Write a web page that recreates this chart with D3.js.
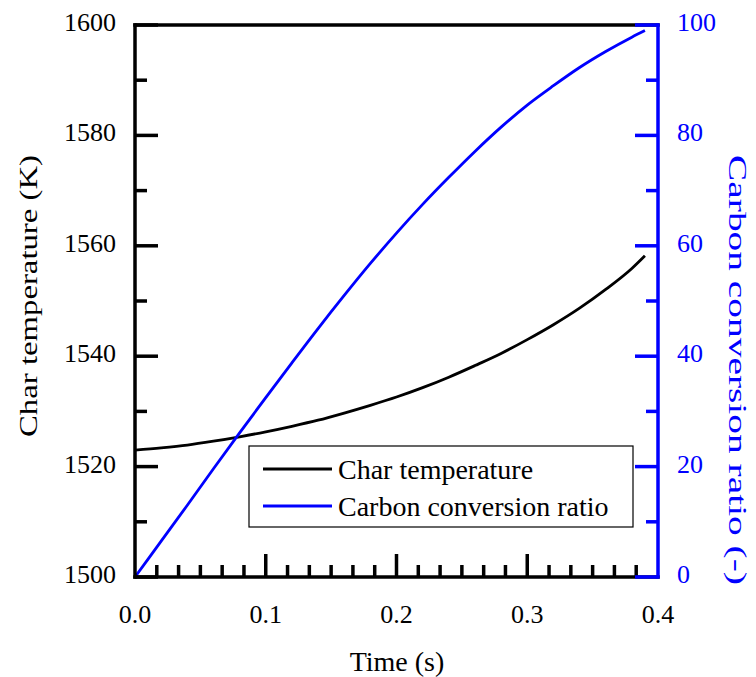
<!DOCTYPE html>
<html>
<head>
<meta charset="utf-8">
<script src="https://cdn.jsdelivr.net/npm/d3@7"></script>
<style>
  html, body { margin: 0; padding: 0; background: #fff; }
  svg { display: block; }
  text { font-family: "Liberation Serif", "Times New Roman", serif; }
</style>
</head>
<body>
<svg id="chart" width="756" height="677"></svg>
<script>
// ---- data ----
const time = [0, 0.02, 0.04, 0.06, 0.08, 0.10, 0.12, 0.14, 0.16, 0.18, 0.20, 0.22, 0.24, 0.26, 0.28, 0.30, 0.32, 0.34, 0.36, 0.38, 0.39];
const charTemperature = [1523.0, 1523.4, 1523.9, 1524.6, 1525.4, 1526.3, 1527.3, 1528.4, 1529.7, 1531.1, 1532.6, 1534.3, 1536.2, 1538.3, 1540.5, 1543.0, 1545.7, 1548.7, 1552.1, 1555.9, 1558.2];
const carbonConversion = [0, 6.5, 13.0, 19.6, 26.1, 32.5, 38.8, 45.0, 51.0, 56.8, 62.3, 67.5, 72.4, 77.1, 81.5, 85.5, 89.0, 92.3, 95.2, 97.8, 99.0];
const xTicks = [0, 0.1, 0.2, 0.3, 0.4];
const yLeftTicks = [1500, 1520, 1540, 1560, 1580, 1600];
const yRightTicks = [0, 20, 40, 60, 80, 100];
const seriesNames = ["Char temperature", "Carbon conversion ratio"];
const seriesColors = ["#000000", "#0000ff"];

// ---- layout ----
const L = 135, R = 658, T = 25, B = 577;
const svg = d3.select("#chart");
const x = d3.scaleLinear().domain([0, 0.4]).range([L, R]);
const yL = d3.scaleLinear().domain([1500, 1600]).range([B, T]);
const yR = d3.scaleLinear().domain([0, 100]).range([B, T]);

const AX = 3.5, MAJ = 23, MIN = 12;

// data lines
const tempData = time.map((t, i) => [t, charTemperature[i]]);
const convData = time.map((t, i) => [t, carbonConversion[i]]);
svg.append("path").datum(tempData)
  .attr("d", d3.line().x(d => x(d[0])).y(d => yL(d[1])).curve(d3.curveMonotoneX))
  .attr("fill", "none").attr("stroke", seriesColors[0]).attr("stroke-width", 2.8);
svg.append("path").datum(convData)
  .attr("d", d3.line().x(d => x(d[0])).y(d => yR(d[1])).curve(d3.curveMonotoneX))
  .attr("fill", "none").attr("stroke", seriesColors[1]).attr("stroke-width", 2.8);

// frame: top and bottom and left (black)
const g = svg.append("g");
g.append("line").attr("x1", L).attr("x2", R).attr("y1", T).attr("y2", T)
  .attr("stroke", "#000").attr("stroke-width", AX).attr("stroke-linecap", "square");
g.append("line").attr("x1", L).attr("x2", R).attr("y1", B).attr("y2", B)
  .attr("stroke", "#000").attr("stroke-width", AX).attr("stroke-linecap", "square");
g.append("line").attr("x1", L).attr("x2", L).attr("y1", T).attr("y2", B)
  .attr("stroke", "#000").attr("stroke-width", AX).attr("stroke-linecap", "square");

// x ticks
const xMinor = d3.range(0, 24).map(i => i * 0.1 / 6).filter((v, i) => i % 6 !== 0);
g.selectAll(".xmin").data(xMinor).enter().append("line")
  .attr("x1", d => x(d)).attr("x2", d => x(d)).attr("y1", B).attr("y2", B - MIN)
  .attr("stroke", "#000").attr("stroke-width", AX);
g.selectAll(".xmaj").data(xTicks.slice(1, 4)).enter().append("line")
  .attr("x1", d => x(d)).attr("x2", d => x(d)).attr("y1", B).attr("y2", B - MAJ)
  .attr("stroke", "#000").attr("stroke-width", AX);
g.selectAll(".xlab").data(xTicks).enter().append("text")
  .attr("x", d => x(d)).attr("y", 623).attr("text-anchor", "middle")
  .attr("font-size", 26).attr("fill", "#000").text(d => d.toFixed(1));

// left ticks
const yLMinor = d3.range(1510, 1600, 20);
g.selectAll(".ylmin").data(yLMinor).enter().append("line")
  .attr("x1", L).attr("x2", L + MIN).attr("y1", d => yL(d)).attr("y2", d => yL(d))
  .attr("stroke", "#000").attr("stroke-width", AX);
g.selectAll(".ylmaj").data(yLeftTicks).enter().append("line")
  .attr("x1", L).attr("x2", L + MAJ).attr("y1", d => yL(d)).attr("y2", d => yL(d))
  .attr("stroke", "#000").attr("stroke-width", AX);
g.selectAll(".yllab").data(yLeftTicks).enter().append("text")
  .attr("x", 116).attr("y", d => yL(d) + 6).attr("text-anchor", "end")
  .attr("font-size", 26).attr("fill", "#000").text(d => d);

// right axis (blue)
const gr = svg.append("g");
gr.append("line").attr("x1", R).attr("x2", R).attr("y1", T).attr("y2", B)
  .attr("stroke", "#0000ff").attr("stroke-width", AX).attr("stroke-linecap", "square");
const yRMinor = d3.range(10, 100, 20);
gr.selectAll(".yrmin").data(yRMinor).enter().append("line")
  .attr("x1", R).attr("x2", R - MIN).attr("y1", d => yR(d)).attr("y2", d => yR(d))
  .attr("stroke", "#0000ff").attr("stroke-width", AX);
gr.selectAll(".yrmaj").data(yRightTicks).enter().append("line")
  .attr("x1", R).attr("x2", R - MAJ).attr("y1", d => yR(d)).attr("y2", d => yR(d))
  .attr("stroke", "#0000ff").attr("stroke-width", AX);
gr.selectAll(".yrlab").data(yRightTicks).enter().append("text")
  .attr("x", 677).attr("y", d => yR(d) + 6).attr("text-anchor", "start")
  .attr("font-size", 26).attr("fill", "#0000ff").text(d => d);

// axis titles
svg.append("text").attr("x", 397).attr("y", 671).attr("text-anchor", "middle")
  .attr("font-size", 28).attr("fill", "#000").text("Time (s)");
svg.append("text").attr("transform", "translate(37,296) rotate(-90)")
  .attr("text-anchor", "middle").attr("font-size", 26).attr("fill", "#000")
  .attr("textLength", 282).attr("lengthAdjust", "spacingAndGlyphs")
  .text("Char temperature (K)");
svg.append("text").attr("transform", "translate(729,370) rotate(90)")
  .attr("text-anchor", "middle").attr("font-size", 26).attr("fill", "#0000ff")
  .attr("textLength", 430).attr("lengthAdjust", "spacingAndGlyphs")
  .text("Carbon conversion ratio (-)");

// legend
const lg = svg.append("g");
lg.append("rect").attr("x", 249).attr("y", 446).attr("width", 384).attr("height", 81)
  .attr("fill", "#fff").attr("stroke", "#000").attr("stroke-width", 1.2);
seriesNames.forEach((name, i) => {
  const yy = 469 + i * 37;
  lg.append("line").attr("x1", 263).attr("x2", 332).attr("y1", yy).attr("y2", yy)
    .attr("stroke", seriesColors[i]).attr("stroke-width", 2.8);
  lg.append("text").attr("x", 338).attr("y", yy + 10).attr("font-size", 28)
    .attr("fill", "#000").text(name);
});
</script>
</body>
</html>
